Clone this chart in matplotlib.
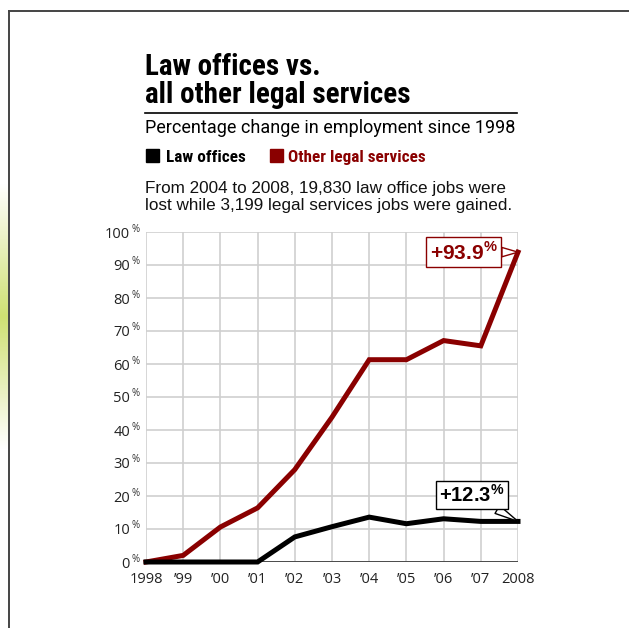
import matplotlib
matplotlib.use('Agg')
import matplotlib.pyplot as plt
import matplotlib.transforms as mtransforms
from matplotlib.lines import Line2D
from matplotlib.patches import Rectangle
from matplotlib.colors import LinearSegmentedColormap
import numpy as np

# Percentage change in employment since 1998
years = [1998, 1999, 2000, 2001, 2002, 2003, 2004, 2005, 2006, 2007, 2008]
law_offices = [0, 0, 0, 0, 7.6, 10.7, 13.6, 11.6, 13.1, 12.3, 12.3]
other_legal = [0, 2.0, 10.6, 16.4, 28.0, 43.9, 61.3, 61.3, 67.1, 65.5, 93.9]
xtick_labels = ['1998', '\u201999', '\u201900', '\u201901', '\u201902', '\u201903',
                '\u201904', '\u201905', '\u201906', '\u201907', '2008']
yticks = [0, 10, 20, 30, 40, 50, 60, 70, 80, 90, 100]

RED = '#8a0000'
GRID = '#cfcfcf'
W, H = 629, 628

plt.rcParams['mathtext.fontset'] = 'custom'
plt.rcParams['mathtext.bf'] = 'Liberation Sans:bold'
plt.rcParams['mathtext.rm'] = 'Liberation Sans'

# narrowest available face first
cond = ['Liberation Sans Narrow', 'Roboto Condensed', 'Roboto', 'DejaVu Sans']
plain = ['Roboto', 'DejaVu Sans']
tick_font = ['Open Sans', 'DejaVu Sans']


def fx(px):
    return px / W


def fy(py):
    return 1 - py / H


fig = plt.figure(figsize=(W / 100, H / 100), dpi=100)
fig.patch.set_facecolor('white')

# page frame and green side strip
fig.add_artist(Line2D([fx(8.5), fx(8.5)], [fy(11), 0], transform=fig.transFigure,
                      color='#444444', lw=1.4))
fig.add_artist(Line2D([fx(8.5), 1], [fy(11), fy(11)], transform=fig.transFigure,
                      color='#444444', lw=1.4))
strip = fig.add_axes([0, fy(450), fx(7.5), (450 - 183) / H])
strip.axis('off')
green = LinearSegmentedColormap.from_list('g', ['#ffffff', '#cfe073', '#ffffff'])
strip.imshow(np.linspace(0, 1, 200).reshape(-1, 1), cmap=green, aspect='auto',
             extent=[0, 1, 0, 1])

# titles
fig.text(fx(145), fy(75), 'Law offices vs.', fontsize=21, fontweight='bold',
         family=cond, va='baseline')
fig.text(fx(145), fy(103), 'all other legal services', fontsize=21, fontweight='bold',
         family=cond, va='baseline')
fig.add_artist(Line2D([fx(145), fx(517)], [fy(112.7), fy(112.7)], transform=fig.transFigure,
                      color='black', lw=1.2))
fig.text(fx(145), fy(133), 'Percentage change in employment since 1998', fontsize=13,
         family=plain, va='baseline')

# legend
fig.add_artist(Rectangle((fx(146), fy(162)), 13 / W, 13 / H, transform=fig.transFigure,
                         color='black'))
fig.text(fx(166), fy(162), 'Law offices', fontsize=12.3, fontweight='bold',
         family=cond, va='baseline')
fig.add_artist(Rectangle((fx(270), fy(162)), 13 / W, 13 / H, transform=fig.transFigure,
                         color=RED))
fig.text(fx(288), fy(162), 'Other legal services', fontsize=12.3, fontweight='bold',
         family=cond, va='baseline', color=RED)

fig.text(fx(145), fy(193), 'From 2004 to 2008, 19,830 law office jobs were',
         fontsize=12.3, family=['Liberation Sans', 'DejaVu Sans'], va='baseline', color='#111111')
fig.text(fx(145), fy(210), 'lost while 3,199 legal services jobs were gained.',
         fontsize=12.3, family=['Liberation Sans', 'DejaVu Sans'], va='baseline', color='#111111')

# chart
ax = fig.add_axes([fx(146), fy(562), (518 - 146) / W, (562 - 232) / H])
ax.set_xlim(1998, 2008)
ax.set_ylim(0, 100)
for s in ax.spines.values():
    s.set_visible(False)
ax.set_xticks(years)
ax.set_yticks(yticks)
ax.grid(True, color=GRID, lw=1.2)
ax.set_axisbelow(True)
ax.tick_params(length=0)
ax.tick_params(axis='x', pad=7)
ax.tick_params(axis='y', pad=11.5)
ax.set_xticklabels(xtick_labels, fontsize=10.5, family=tick_font, color='#222222')
ax.set_yticklabels([str(v) for v in yticks], fontsize=10.5, family=tick_font, color='#222222')

pct = mtransforms.offset_copy(ax.get_yaxis_transform(), fig=fig, x=-15, y=3, units='dots')
for v in yticks:
    ax.text(0, v, '%', transform=pct, fontsize=7, family=tick_font, color='#333333',
            ha='left', va='center')

ax.axhline(0, color='#333333', lw=1.2, zorder=2)

ax.plot(years, other_legal, color=RED, lw=3.6, solid_joinstyle='miter', clip_on=False, zorder=3)
ax.plot(years, law_offices, color='black', lw=3.6, solid_joinstyle='miter', clip_on=False, zorder=4)

# end-value callouts
ax.annotate(r'$\mathbf{+%.1f}^{\mathbf{\%%}}$' % other_legal[-1], xy=(years[-1], other_legal[-1]),
            xytext=(-39, 0), textcoords='offset points', ha='center', va='center',
            fontsize=15, color=RED, zorder=5,
            bbox=dict(boxstyle='square,pad=0.18', fc='white', ec=RED, lw=1.0),
            arrowprops=dict(arrowstyle='wedge,tail_width=0.45,shrink_factor=0.5', fc='white',
                            ec=RED, lw=1.0, shrinkA=0, shrinkB=0))
ax.annotate(r'$\mathbf{+%.1f}^{\mathbf{\%%}}$' % law_offices[-1], xy=(years[-1], law_offices[-1]),
            xytext=(-33, 19), textcoords='offset points', ha='center', va='center',
            fontsize=14.5, color='black', zorder=5,
            bbox=dict(boxstyle='square,pad=0.15', fc='white', ec='black', lw=1.0),
            arrowprops=dict(arrowstyle='wedge,tail_width=0.45,shrink_factor=0.5', fc='white',
                            ec='black', lw=1.0, shrinkA=0, shrinkB=0))

fig.savefig('out.png', dpi=100, facecolor='white')
